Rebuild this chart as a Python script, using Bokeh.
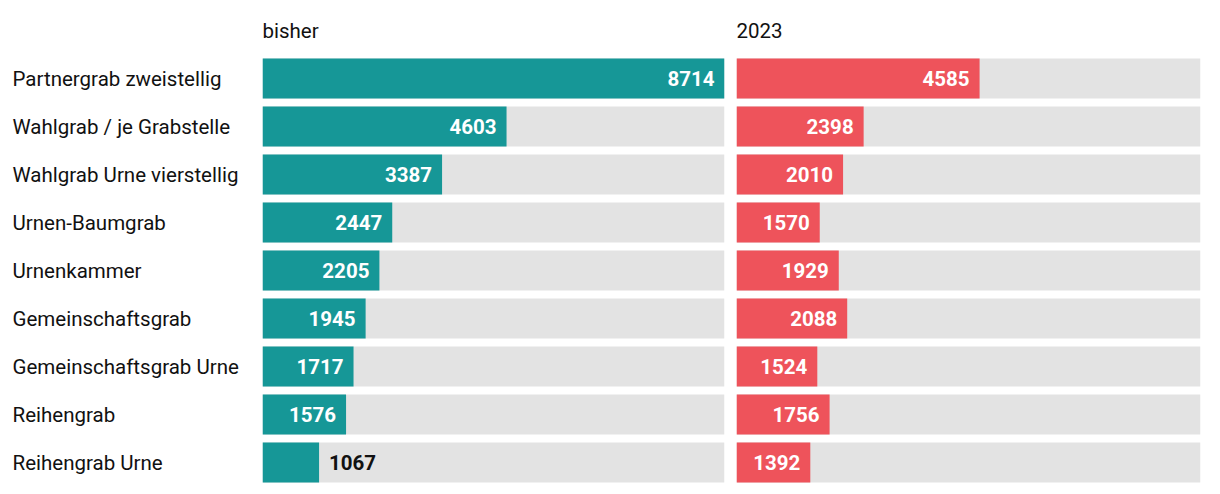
from bokeh.plotting import figure
from bokeh.layouts import row
from bokeh.models import FactorRange, Range1d
from bokeh.embed import file_html
from bokeh.resources import INLINE
from bokeh.core.properties import value

categories = ["Partnergrab zweistellig", "Wahlgrab / je Grabstelle", "Wahlgrab Urne vierstellig",
              "Urnen-Baumgrab", "Urnenkammer", "Gemeinschaftsgrab", "Gemeinschaftsgrab Urne",
              "Reihengrab", "Reihengrab Urne"]
bisher = [8714, 4603, 3387, 2447, 2205, 1945, 1717, 1576, 1067]
jahr2023 = [4585, 2398, 2010, 1570, 1929, 2088, 1524, 1756, 1392]
panel_titles = ["bisher", "2023"]

FONT = "Roboto"
TEAL = "#169797"
RED = "#EE535B"
GRAY = "#E3E3E3"
INK = "#111111"

H = 486
TOP = 6
HEADER = "__header__"
yr = FactorRange(factors=categories[::-1] + [HEADER], range_padding=0)

def base(width, xr, bl, br):
    p = figure(width=width, height=H, y_range=yr, x_range=xr, output_backend="svg",
               toolbar_location=None, min_border_left=bl, min_border_right=br,
               min_border_top=TOP, min_border_bottom=0)
    p.axis.visible = False
    p.grid.visible = False
    p.outline_line_color = None
    p.background_fill_color = None
    p.border_fill_color = None
    return p

# label column
lab = base(262, Range1d(0, 1), 0, 0)
lab.text(x=0, y=categories, text=categories, x_offset=12, text_font=value(FONT),
         text_font_size="20.5px", text_baseline="middle", text_align="left", text_color=INK)

scale_max = max(bisher)
FW1, FW2 = 462, 464

def panel(vals, color, fw, bl, br, title):
    xmax = scale_max * fw / FW1
    p = base(fw + bl + br, Range1d(0, xmax), bl, br)
    p.text(x=[0], y=[HEADER], text=[title], text_font=value(FONT), text_font_size="20.5px",
           text_baseline="middle", text_align="left", text_color=INK)
    p.hbar(y=categories, left=0, right=xmax, height=40/48, color=GRAY, line_color=None)
    p.hbar(y=categories, left=0, right=vals, height=40/48, color=color, line_color=None)
    thr = 1200
    ins = [(c, v) for c, v in zip(categories, vals) if v >= thr]
    outs = [(c, v) for c, v in zip(categories, vals) if v < thr]
    if ins:
        p.text(x=[v for _, v in ins], y=[c for c, _ in ins], text=[str(v) for _, v in ins],
               x_offset=-10, text_align="right", text_baseline="middle", text_color="white",
               text_font=value(FONT), text_font_style="bold", text_font_size="20.5px")
    if outs:
        p.text(x=[v for _, v in outs], y=[c for c, _ in outs], text=[str(v) for _, v in outs],
               x_offset=10, text_align="left", text_baseline="middle", text_color=INK,
               text_font=value(FONT), text_font_style="bold", text_font_size="20.5px")
    return p

p1 = panel(bisher, TEAL, FW1, 0, 6, panel_titles[0])
p2 = panel(jahr2023, RED, FW2, 6, 12, panel_titles[1])

layout = row(lab, p1, p2, spacing=0)
open("out.html", "w").write(file_html(layout, INLINE))
